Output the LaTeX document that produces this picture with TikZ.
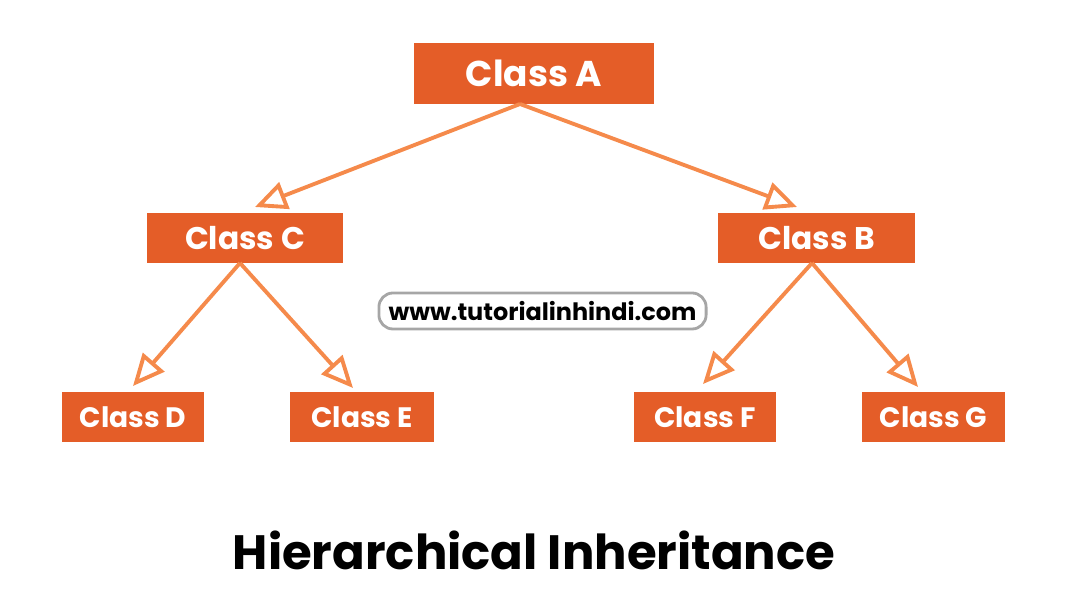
\documentclass[tikz,border=0pt]{standalone}
\usepackage{fontspec}
\setmainfont{Poppins}
\usetikzlibrary{arrows.meta}
\definecolor{boxc}{HTML}{E45D28}
\definecolor{arrc}{HTML}{F58A4B}
\begin{document}
\begin{tikzpicture}[x=0.01cm,y=-0.01cm,
  cls/.style={fill=boxc,text=white,inner sep=0pt},
  arr/.style={draw=arrc,line width=1.1pt,-{Stealth[length=9pt,width=8pt,inset=0pt,open,fill=none]}}]
\useasboundingbox (0,0) rectangle (1068,601);
\node[cls,minimum width=2.4cm,minimum height=0.61cm,font=\bfseries\fontsize{10.2}{12}\selectfont] (A) at (534,73.5) {Class A};
\node[cls,minimum width=1.96cm,minimum height=0.5cm,font=\bfseries\fontsize{8.9}{11}\selectfont] (C) at (245,238) {Class C};
\node[cls,minimum width=1.97cm,minimum height=0.5cm,font=\bfseries\fontsize{8.9}{11}\selectfont] (B) at (816.5,238) {Class B};
\node[cls,minimum width=1.42cm,minimum height=0.5cm,font=\bfseries\fontsize{8}{10}\selectfont] (D) at (133,417) {Class D};
\node[cls,minimum width=1.44cm,minimum height=0.5cm,font=\bfseries\fontsize{8}{10}\selectfont] (E) at (362,417) {Class E};
\node[cls,minimum width=1.42cm,minimum height=0.5cm,font=\bfseries\fontsize{8}{10}\selectfont] (F) at (705,417) {Class F};
\node[cls,minimum width=1.43cm,minimum height=0.5cm,font=\bfseries\fontsize{8}{10}\selectfont] (G) at (933.5,417) {Class G};
\node[draw=gray!70,rounded corners=4pt,line width=0.8pt,minimum width=3.27cm,minimum height=0.36cm,inner sep=0pt,font=\fontsize{6.8}{8}\selectfont\bfseries] (W) at (542.5,311) {www.tutorialinhindi.com};
\node[font=\bfseries\fontsize{13.7}{16}\selectfont] (T) at (534,550) {Hierarchical Inheritance};
\coordinate (a1) at (520,104);
\coordinate (c1) at (240,263);
\coordinate (b1) at (812,263);
\coordinate (tc) at (255,207);
\coordinate (tb) at (797,207);
\coordinate (td) at (133,386);
\coordinate (te) at (353,388);
\coordinate (tf) at (703,384);
\coordinate (tg) at (918,387);
\draw[arr] (a1) -- (tc);
\draw[arr] (a1) -- (tb);
\draw[arr] (c1) -- (td);
\draw[arr] (c1) -- (te);
\draw[arr] (b1) -- (tf);
\draw[arr] (b1) -- (tg);
\end{tikzpicture}
\end{document}
